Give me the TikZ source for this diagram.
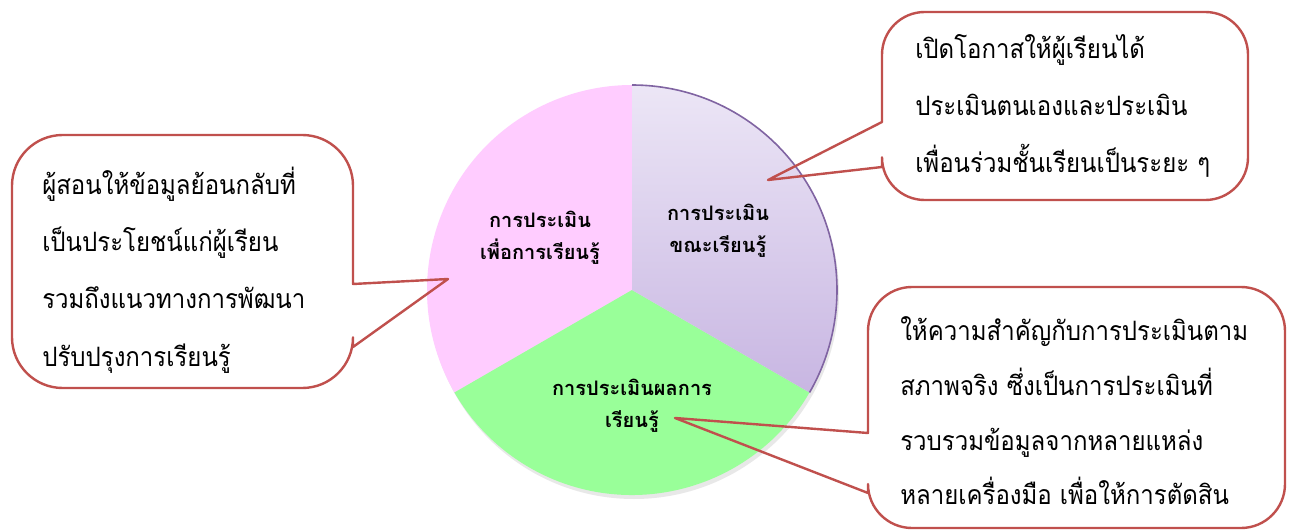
\documentclass[tikz,border=0pt]{standalone}
\usepackage{fontspec}
\newfontfamily\thaifont[Script=Thai]{Loma}
\newfontfamily\thainarrow[Script=Thai,FakeStretch=0.9]{Loma}
\usetikzlibrary{positioning}
\definecolor{calloutred}{HTML}{C0504D}
\definecolor{pinkslice}{HTML}{FFCCFF}
\definecolor{greenslice}{HTML}{99FF99}
\definecolor{purpletop}{HTML}{ECE6F6}
\definecolor{purplebottom}{HTML}{C8B6E2}
\definecolor{purpleedge}{HTML}{8064A2}

\begin{document}
\begin{tikzpicture}[x=0.75pt,y=-0.75pt,font=\thaifont]
            \tikzstyle{callout}=[draw=calloutred,line width=1.8pt,line join=round]
            \tikzstyle{slice label}=[font=\thaifont\bfseries\fontsize{15}{24}\selectfont,align=center,inner sep=0pt]
            \tikzstyle{callout text}=[font=\thainarrow\fontsize{20}{43}\selectfont,align=left,inner sep=0pt,anchor=west]
            \useasboundingbox[fill=white] (0,0) rectangle (1293,531);
            \coordinate (c) at (632,290);
            \coordinate (t) at (632,85);
            \coordinate (r) at (809.5,392.5);
            \coordinate (l) at (454.5,392.5);
            % pie
            \fill[gray!18] (634,294) circle[radius=205];
            \fill[pinkslice] (c) -- (l) arc[start angle=150,end angle=270,radius=205] -- cycle;
            \fill[greenslice] (c) -- (r) arc[start angle=30,end angle=150,radius=205] -- cycle;
            \shade[top color=purpletop,bottom color=purplebottom] (c) -- (t) arc[start angle=-90,end angle=30,radius=205] -- cycle;
            \draw[purpleedge,line width=1.2pt] (t) arc[start angle=-90,end angle=30,radius=205];
            \node[slice label] (forlearn) at (540,238) {การประเมิน\\เพื่อการเรียนรู้};
            \node[slice label] (whilelearn) at (718,231) {การประเมิน\\ขณะเรียนรู้};
            \node[slice label] (oflearn) at (632,406) {การประเมินผลการ\\เรียนรู้};
            % callouts
            \coordinate (tipL) at (448,279);
            \coordinate (tipR) at (768,180);
            \coordinate (tipB) at (675,418);
            \draw[callout] (353,284) [rounded corners=38] |- (12,135) |- (353,388) [sharp corners] -- (353,347) -- (tipL) -- cycle;
            \draw[callout] (882,122) [rounded corners=32] |- (1248,12) |- (882,200) [sharp corners] -- (882,167) -- (tipR) -- cycle;
            \draw[callout] (868,433) [rounded corners=33] |- (1285,287) |- (868,528) [sharp corners] -- (868,493) -- (tipB) -- cycle;
            \node[callout text] (feedback) at (42,270) {ผู้สอนให้ข้อมูลย้อนกลับที่\\เป็นประโยชน์แก่ผู้เรียน\\รวมถึงแนวทางการพัฒนา\\ปรับปรุงการเรียนรู้};
            \node[callout text] (selfpeer) at (915,106) {เปิดโอกาสให้ผู้เรียนได้\\ประเมินตนเองและประเมิน\\เพื่อนร่วมชั้นเรียนเป็นระยะ ๆ};
            \node[callout text,font=\thainarrow\fontsize{20}{41}\selectfont] (authentic) at (900,411) {ให้ความสำคัญกับการประเมินตาม\\สภาพจริง ซึ่งเป็นการประเมินที่\\รวบรวมข้อมูลจากหลายแหล่ง\\หลายเครื่องมือ เพื่อให้การตัดสิน};
          \end{tikzpicture}
\end{document}
